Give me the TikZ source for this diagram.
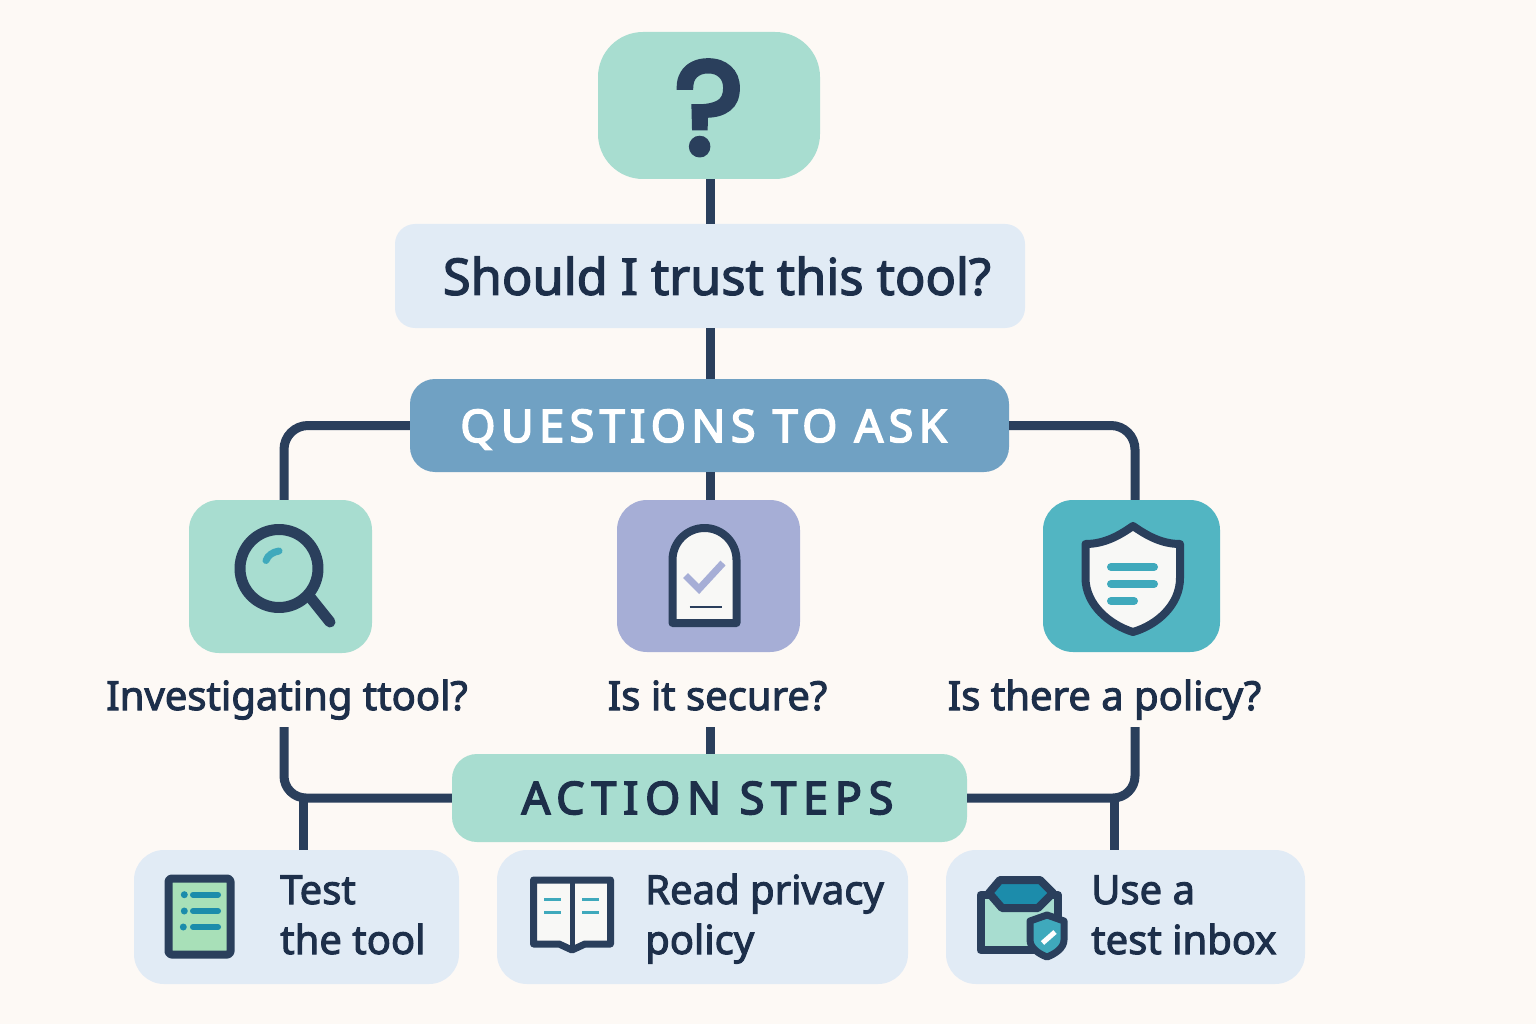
\documentclass[tikz,border=0pt]{standalone}
\usepackage{fontspec}
\setmainfont{Noto Sans}[FakeBold=2.5]
\newfontfamily\spaced{Noto Sans}[FakeBold=3.5]
\newfontfamily\markfont{Poppins}[FakeBold=4]
\definecolor{paper}{HTML}{FDF9F5}
\definecolor{navy}{HTML}{2A3F5C}
\definecolor{inknavy}{HTML}{1D2F4A}
\definecolor{mint}{HTML}{A8DDD0}
\definecolor{pale}{HTML}{E1EBF5}
\definecolor{steel}{HTML}{70A1C3}
\definecolor{lavender}{HTML}{A6AED6}
\definecolor{teal}{HTML}{52B5C2}
\definecolor{barteal}{HTML}{3FA9BC}
\definecolor{deepteal}{HTML}{1C8CAB}
\definecolor{sheet}{HTML}{F8F8F6}
\definecolor{leaf}{HTML}{A8E0B8}
\tikzset{
	softbox/.style={inner sep=0pt, text=inknavy, rounded corners=#1},
	softbox/.default=30pt,
	asklabel/.style={inner sep=0pt, minimum height=62pt, text height=30pt, text depth=2pt, text=inknavy, font=\fontsize{40}{40}\selectfont},
	steplabel/.style={inner sep=0pt, anchor=base west, align=left, text=inknavy, font=\fontsize{40}{50}\selectfont},
	link/.style={line width=9pt, color=navy},
	iconline/.style={line width=8pt, color=navy, line join=round}
}

\begin{document}
\begin{tikzpicture}[x=1pt, y=-1pt]
	\fill[paper] (0, 0) rectangle (1536, 1024);
	\useasboundingbox (0, 0) rectangle (1536, 1024);

	%%%%% BOXES %%%%%
	\node[softbox=45pt, fill=mint, minimum width=222pt, minimum height=147pt, text=navy, text height=97pt, text depth=0pt, font=\fontsize{132}{132}\markfont] (top) at (709, 105.5) {?};
	\node[softbox=20pt, fill=pale, minimum width=630pt, minimum height=104pt, font=\fontsize{50.5}{50}\selectfont] (trust) at (710, 276) {\hspace{14pt}Should I trust this tool?};
	\node[softbox=25pt, fill=steel, text=white, minimum width=599pt, minimum height=93pt, text height=33pt, text depth=0pt] (questions) at (709.5, 425.5) {\hspace{-12pt}{\fontsize{45}{45}\spaced\addfontfeature{LetterSpace=12}QUESTIONS TO ASK}};

	\node[softbox, fill=mint, minimum width=183pt, minimum height=153pt] (invest) at (280.5, 576.5) {};
	\node[softbox, fill=lavender, minimum width=183pt, minimum height=152pt] (secure) at (708.5, 576) {};
	\node[softbox, fill=teal, minimum width=177pt, minimum height=152pt] (policy) at (1131.5, 576) {};

	\node[asklabel] (investlabel) at (287, 696) {Investigating ttool?};
	\node[asklabel] (securelabel) at (717.5, 696) {Is it secure?};
	\node[asklabel] (policylabel) at (1104.5, 696) {Is there a policy?};

	\node[softbox=25pt, fill=mint, minimum width=515pt, minimum height=88pt] (steps) at (709.5, 798) {\hspace{-4pt}{\fontsize{45}{45}\spaced\addfontfeature{LetterSpace=15}ACTION STEPS}};

	\node[softbox, fill=pale, minimum width=325pt, minimum height=134pt] (test) at (296.5, 917) {};
	\node[softbox, fill=pale, minimum width=411pt, minimum height=134pt] (read) at (702.5, 917) {};
	\node[softbox, fill=pale, minimum width=359pt, minimum height=134pt] (inbox) at (1125.5, 917) {};

	\node[steplabel] (testtext) at (280, 954) {Test\\the tool};
	\node[steplabel] (readtext) at (645, 954) {Read privacy\\policy};
	\node[steplabel] (inboxtext) at (1091, 954) {Use a\\test inbox};

	%%%%% CONNECTORS %%%%%
	\draw[link] ([xshift=1pt]top.south) -- (trust.north);
	\draw[link] (trust.south) -- ([xshift=0.5pt]questions.north);
	\draw[link] ([xshift=0.5pt]questions.south) -- ([xshift=1.5pt]secure.north);
	\draw[link, rounded corners=24pt] (questions.west) -| ([xshift=3.5pt]invest.north);
	\draw[link, rounded corners=24pt] (questions.east) -| ([xshift=3.5pt]policy.north);

	\draw[link, rounded corners=22pt] ([xshift=-3pt]investlabel.south) |- (steps.west);
	\draw[link, rounded corners=22pt] ([xshift=30.5pt]policylabel.south) |- (steps.east);
	\draw[link] ([xshift=-7.5pt]securelabel.south) -- ([xshift=0.5pt]steps.north);
	\draw[link] ([xshift=6.5pt]test.north) -- ([xshift=6.5pt]test.north |- steps.west);
	\draw[link] ([xshift=-11.5pt]inbox.north) -- ([xshift=-11.5pt]inbox.north |- steps.east);

	%%%%% MAGNIFIER %%%%%
	\draw[iconline, line width=11pt] (279, 568.5) circle (39);
	\draw[iconline, line width=11pt, line cap=round] (310, 597) -- (330, 622);
	\draw[line width=7pt, color=barteal, line cap=round] (266, 560.5) .. controls (268, 555) and (273, 552) .. (279, 551);

	%%%%% DOCUMENT %%%%%
	\draw[iconline, fill=sheet] (672.5, 623) -- (672.5, 560) arc (180:360:32) -- (736.5, 623) -- cycle;
	\draw[line width=7pt, color=lavender] (685.5, 575.5) -- (699, 589) -- (723, 563);
	\draw[line width=2pt, color=navy] (689.5, 607) -- (722, 607);

	%%%%% SHIELD %%%%%
	\draw[iconline, fill=sheet] (1133, 526) .. controls (1120, 535) and (1105, 544) .. (1085.5, 544) -- (1085.5, 578) .. controls (1085.5, 605) and (1110, 625) .. (1133, 632) .. controls (1157, 625) and (1180, 605) .. (1180, 578) -- (1180, 544) .. controls (1161, 544) and (1146, 535) .. (1133, 526) -- cycle;
	\draw[line width=8pt, color=barteal, line cap=round] (1111, 567) -- (1154, 567);
	\draw[line width=8pt, color=barteal, line cap=round] (1111, 584) -- (1154, 584);
	\draw[line width=8pt, color=barteal, line cap=round] (1111, 601) -- (1134, 601);

	%%%%% CHECKLIST %%%%%
	\draw[iconline, fill=leaf, rounded corners=3pt] (168.5, 878.5) rectangle (230.5, 954.5);
	\foreach \rowy/\dotx in {894.7/184.3, 911/184.3, 927/183.3} {
		\fill[deepteal] (\dotx, \rowy) circle (3.5);
		\draw[line width=6pt, color=deepteal, line cap=round] (193, \rowy) -- (218, \rowy);
	}

	%%%%% BOOK %%%%%
	\draw[iconline, line width=7pt, fill=sheet] (533.5, 880) -- (610.5, 880) -- (610.5, 944) -- (585, 944) -- (572, 950) -- (559, 944) -- (533.5, 944) -- cycle;
	\draw[line width=5pt, color=navy] (572, 880) -- (572, 948);
	\foreach \rowy in {899, 912} {
		\draw[line width=3pt, color=barteal] (544, \rowy) -- (561, \rowy);
		\draw[line width=3pt, color=barteal] (582, \rowy) -- (599, \rowy);
	}

	%%%%% INBOX %%%%%
	\draw[iconline, fill=mint] (980.5, 895) -- (1058, 895) -- (1058, 950) -- (980.5, 950) -- cycle;
	\draw[iconline, fill=deepteal] (1000, 880) -- (1040, 880) -- (1053, 893) -- (1038, 908) -- (1002, 908) -- (989, 893) -- cycle;
	\draw[iconline, line width=7pt, fill=barteal] (1047, 915) -- (1064, 921) -- (1064, 940) .. controls (1064, 948) and (1055, 954) .. (1047, 957) .. controls (1039, 954) and (1030, 948) .. (1030, 940) -- (1030, 921) -- cycle;
	\draw[line width=5pt, color=white] (1042.5, 943) -- (1055, 932);
\end{tikzpicture}
\end{document}
